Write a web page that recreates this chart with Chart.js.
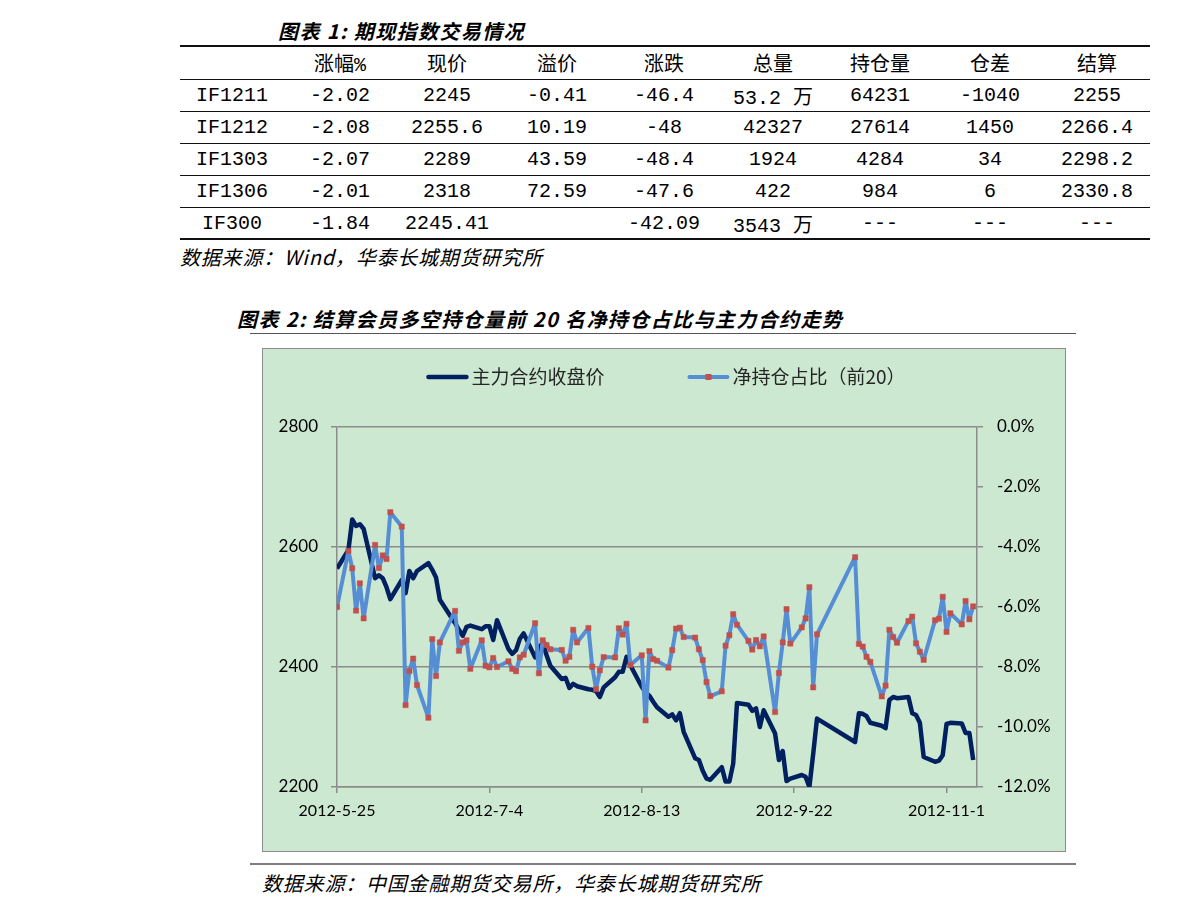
<!DOCTYPE html>
<html>
<head>
<meta charset="utf-8">
<script src="https://cdn.jsdelivr.net/npm/chart.js@4.4.1/dist/chart.umd.min.js"></script>
<style>
body { margin:0; background:#fff; width:1191px; height:913px; position:relative; overflow:hidden; font-family:"Noto Sans CJK SC", sans-serif; }
.txt { position:absolute; white-space:nowrap; transform:translateY(-50%); color:#000; }
.caption { font-weight:bold; font-style:italic; font-size:20px; letter-spacing:1.4px; }
.source { font-style:italic; font-size:20px; letter-spacing:0.8px; }
.rule { position:absolute; }
.cell { position:absolute; transform:translate(-50%,-50%); font-family:"Liberation Mono","Noto Sans CJK SC",monospace; font-size:20px; white-space:nowrap; color:#000; }
#box { position:absolute; left:262px; top:348px; width:804px; height:504px; box-sizing:border-box; border:1px solid #8c8c8c; background:#cde8d0; }
#box canvas { position:absolute; left:0; top:0; }
</style>
</head>
<body>
<div class="txt caption" style="left:278px;top:30px;">图表 1: 期现指数交易情况</div>
<div id="table"></div>
<div class="txt source" style="left:180px;top:256px;">数据来源：Wind，华泰长城期货研究所</div>

<div class="txt caption" style="left:237px;top:318px;">图表 2: 结算会员多空持仓量前 20 名净持仓占比与主力合约走势</div>
<div class="rule" style="left:250px;top:333px;width:826px;height:1px;background:#555;"></div>
<div id="box"><canvas id="chart" width="802" height="502"></canvas></div>
<div class="rule" style="left:250px;top:863px;width:826px;height:2px;background:#7f7f7f;"></div>
<div class="txt source" style="left:262px;top:882px;">数据来源：中国金融期货交易所，华泰长城期货研究所</div>

<script>
// table 1
var tableHead = ['', '涨幅%', '现价', '溢价', '涨跌', '总量', '持仓量', '仓差', '结算'];
var tableRows = [
    ['IF1211', '-2.02', '2245', '-0.41', '-46.4', '53.2 万', '64231', '-1040', '2255'],
    ['IF1212', '-2.08', '2255.6', '10.19', '-48', '42327', '27614', '1450', '2266.4'],
    ['IF1303', '-2.07', '2289', '43.59', '-48.4', '1924', '4284', '34', '2298.2'],
    ['IF1306', '-2.01', '2318', '72.59', '-47.6', '422', '984', '6', '2330.8'],
    ['IF300', '-1.84', '2245.41', '', '-42.09', '3543 万', '---', '---', '---']
];

// chart 2 (2012)
var tradeDates = [
    '05-25','05-28','05-29','05-30','05-31','06-01','06-04','06-05','06-06','06-07',
    '06-08','06-11','06-12','06-13','06-14','06-15','06-18','06-19','06-20','06-21',
    '06-25','06-26','06-27','06-28','06-29','07-02','07-03','07-04','07-05','07-06',
    '07-09','07-10','07-11','07-12','07-13','07-16','07-17','07-18','07-19','07-20',
    '07-23','07-24','07-25','07-26','07-27','07-30','07-31','08-01','08-02','08-03',
    '08-06','08-07','08-08','08-09','08-10','08-13','08-14','08-15','08-16','08-17',
    '08-20','08-21','08-22','08-23','08-24','08-27','08-28','08-29','08-30','08-31',
    '09-03','09-04','09-05','09-06','09-07','09-10','09-11','09-12','09-13','09-14',
    '09-17','09-18','09-19','09-20','09-21','09-24','09-25','09-26','09-27','09-28',
    '10-08','10-09','10-10','10-11','10-12','10-15','10-16','10-17','10-18','10-19',
    '10-22','10-23','10-24','10-25','10-26','10-29','10-30','10-31','11-01','11-02',
    '11-05','11-06','11-07','11-08'
];
var closePrice = [
    2564, 2595, 2646, 2635, 2638, 2630, 2548, 2553, 2548, 2533,
    2513, 2545, 2523, 2560, 2548, 2560, 2573, 2562, 2549, 2512,
    2473, 2462, 2452, 2467, 2469, 2463, 2468, 2468, 2445, 2478,
    2430, 2422, 2428, 2447, 2456, 2416, 2432, 2440, 2420, 2402,
    2380, 2382, 2365, 2372, 2368, 2363, 2362, 2360, 2350, 2366,
    2383, 2392, 2392, 2417, 2403, 2367, 2358, 2352, 2342, 2333,
    2317, 2321, 2311, 2323, 2292, 2248, 2245, 2227, 2214, 2212,
    2233, 2209, 2209, 2239, 2340, 2337, 2327, 2331, 2300, 2328,
    2289, 2245, 2260, 2210, 2214, 2220, 2217, 2200, 2255, 2314,
    2275, 2323, 2322, 2318, 2307, 2302, 2298, 2345, 2350, 2348,
    2350, 2323, 2320, 2307, 2250, 2242, 2244, 2253, 2305, 2307,
    2306, 2290, 2290, 2245
];
var netRatio = [
    -6.00, -4.13, -4.71, -6.12, -5.21, -6.38, -3.93, -4.70, -4.28, -4.40,
    -2.84, -3.32, -9.27, -8.13, -7.72, -8.60, -9.69, -7.07, -8.30, -7.18,
    -6.13, -7.46, -7.18, -7.11, -8.06, -7.11, -7.96, -8.01, -7.70, -8.00,
    -7.81, -8.06, -8.14, -7.68, -7.59, -6.54, -8.21, -7.11, -7.27, -7.41,
    -7.43, -7.79, -7.66, -6.76, -7.18, -6.70, -7.99, -8.74, -8.11, -7.67,
    -7.68, -6.71, -6.92, -6.56, -7.93, -7.61, -9.78, -7.47, -7.74, -7.79,
    -8.02, -7.44, -6.72, -6.69, -7.00, -7.02, -7.41, -7.77, -8.50, -8.97,
    -8.81, -7.29, -6.94, -6.24, -6.59, -7.13, -7.42, -7.10, -7.31, -6.98,
    -9.50, -8.20, -7.18, -6.07, -7.22, -6.68, -6.38, -5.34, -8.68, -6.91,
    -4.34, -7.23, -7.32, -7.66, -7.83, -8.98, -8.62, -6.76, -7.00, -7.19,
    -6.47, -6.32, -7.21, -7.49, -7.76, -6.44, -6.39, -5.66, -6.83, -6.21,
    -6.58, -5.80, -6.41, -5.98
];
var xTicks = [0, 40, 80, 120, 160];   // days from 2012-5-25
var priceTicks = [2200, 2400, 2600, 2800];

// ---- table layout ----
var colX = [232, 340, 447, 557, 664, 773, 880, 990, 1097];
var rowY = [62, 95, 127, 159, 191, 223];
var lineY = [46, 79, 111, 143, 175, 207, 239];
var tbl = document.getElementById('table');
var html = '';
lineY.forEach(function(y, i) {
    var h = (i === 0) ? 2 : (i === lineY.length - 1 ? 1.5 : 1);
    html += '<div class="rule" style="left:180px;top:' + (y - h / 2) + 'px;width:970px;height:' + h + 'px;background:#111;"></div>';
});
[tableHead].concat(tableRows).forEach(function(row, r) {
    row.forEach(function(v, c) {
        if (v !== '') html += '<div class="cell" style="left:' + colX[c] + 'px;top:' + rowY[r] + 'px;">' + v + '</div>';
    });
});
tbl.innerHTML = html;

// ---- chart ----
var startDay = Date.UTC(2012, 4, 25);
var dayNum = function(s) {
    var p = s.split('-');
    return Math.round((Date.UTC(2012, +p[0] - 1, +p[1]) - startDay) / 86400000);
};
var fmtDate = function(v) {
    var d = new Date(startDay + v * 86400000);
    return d.getUTCFullYear() + '-' + (d.getUTCMonth() + 1) + '-' + d.getUTCDate();
};
var xs = tradeDates.map(dayNum);

var axisGray = '#8c8c8c';
var xFont = { family: 'Lato', size: 16 };
var yFont = { family: 'Lato', size: 17 };

var legendPlugin = {
    id: 'boxLegend',
    afterDraw: function(chart) {
        var ctx = chart.ctx;
        var ds = chart.data.datasets;
        var lineW = 38, gapText = 5, gapItem = 85;
        ctx.save();
        ctx.font = '19px "Noto Sans CJK SC"';
        ctx.textBaseline = 'middle';
        var widths = ds.map(function(d) { return lineW + gapText + ctx.measureText(d.label).width; });
        var total = widths[0] + gapItem + widths[1];
        var x = chart.width / 2 + 3 - total / 2;
        var y = 28;
        ds.forEach(function(d, i) {
            ctx.strokeStyle = d.borderColor;
            ctx.lineWidth = d.borderWidth;
            ctx.lineCap = 'round';
            ctx.beginPath();
            ctx.moveTo(x, y);
            ctx.lineTo(x + lineW, y);
            ctx.stroke();
            if (d.pointRadius > 0) {
                ctx.fillStyle = d.pointBackgroundColor;
                ctx.fillRect(x + lineW / 2 - 3, y - 3, 6, 6);
            }
            ctx.fillStyle = '#262626';
            ctx.fillText(d.label, x + lineW + gapText, y);
            x += widths[i] + gapItem;
        });
        ctx.restore();
    }
};

new Chart(document.getElementById('chart'), {
    type: 'line',
    data: {
        datasets: [
            {
                label: '主力合约收盘价',
                data: xs.map(function(x, i) { return { x: x, y: closePrice[i] }; }),
                yAxisID: 'y',
                borderColor: '#002060',
                borderWidth: 4.5,
                borderJoinStyle: 'round',
                pointRadius: 0,
                tension: 0,
                order: 2
            },
            {
                label: '净持仓占比（前20）',
                data: xs.map(function(x, i) { return { x: x, y: netRatio[i] }; }),
                yAxisID: 'y1',
                borderColor: '#558ed5',
                borderWidth: 4,
                borderJoinStyle: 'round',
                pointStyle: 'rect',
                pointRadius: 3.7,
                pointBackgroundColor: '#c0504d',
                pointBorderColor: '#c0504d',
                pointBorderWidth: 0.5,
                tension: 0,
                order: 1
            }
        ]
    },
    options: {
        responsive: false,
        animation: false,
        layout: { padding: { top: 78, left: 0, right: 0, bottom: 0 } },
        plugins: { legend: { display: false }, tooltip: { enabled: false } },
        scales: {
            x: {
                type: 'linear',
                min: 0,
                max: 168,
                afterBuildTicks: function(s) { s.ticks = xTicks.map(function(v) { return { value: v }; }); },
                afterFit: function(s) { s.height = 64; },
                grid: { drawOnChartArea: false, tickLength: 6, color: axisGray, lineWidth: 1.5 },
                border: { color: axisGray, width: 1.5 },
                ticks: { padding: 8, maxRotation: 0, autoSkip: false, color: '#000', font: xFont, callback: fmtDate }
            },
            y: {
                position: 'left',
                min: 2200,
                max: 2800,
                afterBuildTicks: function(s) { s.ticks = priceTicks.map(function(v) { return { value: v }; }); },
                afterFit: function(s) { s.width = 74; },
                grid: { color: axisGray, lineWidth: 1.5, tickLength: 6 },
                border: { color: axisGray, width: 1.5 },
                ticks: { padding: 13, color: '#000', font: yFont, callback: function(v) { return String(v); } }
            },
            y1: {
                position: 'right',
                min: -12,
                max: 0,
                afterFit: function(s) { s.width = 88; },
                grid: { drawOnChartArea: false, color: axisGray, lineWidth: 1.5, tickLength: 6 },
                border: { color: axisGray, width: 1.5 },
                ticks: { stepSize: 2, padding: 14, color: '#000', font: yFont,
                         callback: function(v) { return v.toFixed(1) + '%'; } }
            }
        }
    },
    plugins: [legendPlugin]
});
</script>
</body>
</html>
